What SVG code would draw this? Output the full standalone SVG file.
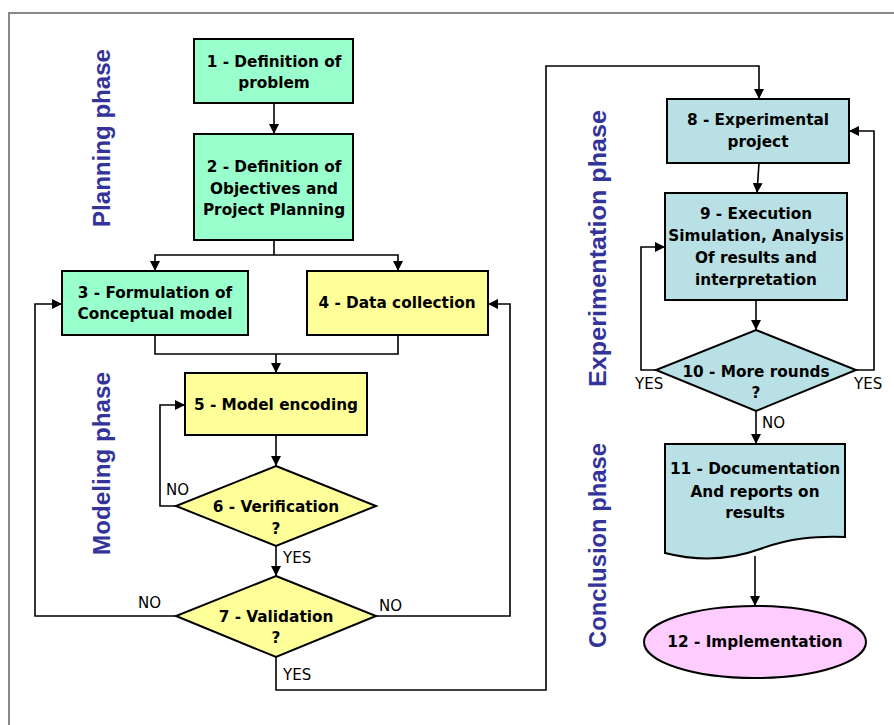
<svg xmlns="http://www.w3.org/2000/svg" width="894" height="725" viewBox="0 0 894 725">
<defs>
<marker id="ah" markerUnits="userSpaceOnUse" markerWidth="10" markerHeight="10" refX="10" refY="5" orient="auto">
<path d="M0,0 L10,5 L0,10 Z" fill="#000"/>
</marker>
<style>
.nd{stroke:#000;stroke-width:2}
.g{fill:#99FFCC}.y{fill:#FFFF99}.t{fill:#B9E0E4}.p{fill:#FFCCFF}
.tx{font-family:"DejaVu Sans",sans-serif;font-weight:bold;font-size:15.3px;fill:#000;text-anchor:middle}
.lb{font-family:"DejaVu Sans",sans-serif;font-size:15px;fill:#000}
.ph{font-family:"Liberation Sans",Arial,sans-serif;font-weight:bold;font-size:24px;fill:#333399;text-anchor:middle}
.c{fill:none;stroke:#000;stroke-width:1.6}
.ca{fill:none;stroke:#000;stroke-width:1.6;marker-end:url(#ah)}
</style>
</defs>
<rect width="894" height="725" fill="#fff"/>
<path d="M9,725 V13 H894" fill="none" stroke="#888" stroke-width="2"/>

<g id="phases">
<text class="ph" transform="translate(110,138) rotate(-90)" textLength="178" lengthAdjust="spacingAndGlyphs">Planning phase</text>
<text class="ph" transform="translate(110,463.5) rotate(-90)" textLength="183" lengthAdjust="spacingAndGlyphs">Modeling phase</text>
<text class="ph" transform="translate(606,248.5) rotate(-90)" textLength="277" lengthAdjust="spacingAndGlyphs">Experimentation phase</text>
<text class="ph" transform="translate(606,545.5) rotate(-90)" textLength="205" lengthAdjust="spacingAndGlyphs">Conclusion phase</text>
</g>

<g id="connectors">
<path class="ca" d="M274,103 V134"/>
<path class="c" d="M274,240 V255"/>
<path class="ca" d="M274,255 H155 V271"/>
<path class="ca" d="M274,255 H398 V271"/>
<path class="c" d="M155,335 V354 H398 V335"/>
<path class="ca" d="M276,354 V373"/>
<path class="ca" d="M276,435 V466"/>
<path class="ca" d="M176,506 H160 V405 H185"/>
<path class="ca" d="M276,546 V576"/>
<path class="ca" d="M176,616 H35 V304 H62"/>
<path class="ca" d="M376,616 H510 V304 H488"/>
<path class="ca" d="M276,657 V690 H546 V66 H759 V99"/>
<path class="ca" d="M759,163 L757,193"/>
<path class="ca" d="M756,300 V330"/>
<path class="ca" d="M656,370 H641 V247 H665"/>
<path class="ca" d="M856,370 H874 V131 H849"/>
<path class="ca" d="M756,411 V444"/>
<path class="ca" d="M755,556 V606"/>
<text class="lb" x="166" y="495">NO</text>
<text class="lb" x="283" y="563">YES</text>
<text class="lb" x="138" y="608">NO</text>
<text class="lb" x="379" y="611">NO</text>
<text class="lb" x="283" y="680">YES</text>
<text class="lb" x="635" y="389">YES</text>
<text class="lb" x="854" y="389">YES</text>
<text class="lb" x="762" y="428">NO</text>
</g>

<g id="n1">
<rect class="nd g" x="194" y="39" width="159" height="64"/>
<text class="tx"><tspan x="274" y="67">1 - Definition of</tspan><tspan x="274" y="88">problem</tspan></text>
</g>
<g id="n2">
<rect class="nd g" x="194" y="134" width="159" height="106"/>
<text class="tx"><tspan x="274" y="172">2 - Definition of</tspan><tspan x="274" y="194">Objectives and</tspan><tspan x="274" y="215">Project Planning</tspan></text>
</g>
<g id="n3">
<rect class="nd g" x="62" y="271" width="186" height="64"/>
<text class="tx"><tspan x="155" y="298">3 - Formulation of</tspan><tspan x="155" y="319">Conceptual model</tspan></text>
</g>
<g id="n4">
<rect class="nd y" x="307" y="271" width="181" height="64"/>
<text class="tx" x="397" y="308">4 - Data collection</text>
</g>
<g id="n5">
<rect class="nd y" x="185" y="373" width="182" height="62"/>
<text class="tx" x="276" y="410">5 - Model encoding</text>
</g>
<g id="n6">
<path class="nd y" d="M276,466 L376,506 L276,546 L176,506 Z"/>
<text class="tx"><tspan x="276" y="512">6 - Verification</tspan><tspan x="276" y="534">?</tspan></text>
</g>
<g id="n7">
<path class="nd y" d="M276,576 L376,616 L276,657 L176,616 Z"/>
<text class="tx"><tspan x="276" y="622">7 - Validation</tspan><tspan x="276" y="643">?</tspan></text>
</g>
<g id="n8">
<rect class="nd t" x="667" y="99" width="182" height="64"/>
<text class="tx"><tspan x="758" y="125">8 - Experimental</tspan><tspan x="758" y="147">project</tspan></text>
</g>
<g id="n9">
<rect class="nd t" x="665" y="193" width="182" height="107"/>
<text class="tx"><tspan x="756" y="219">9 - Execution</tspan><tspan x="756" y="241">Simulation, Analysis</tspan><tspan x="756" y="263">Of results and</tspan><tspan x="756" y="285">interpretation</tspan></text>
</g>
<g id="n10">
<path class="nd t" d="M756,330 L856,370 L756,411 L656,370 Z"/>
<text class="tx"><tspan x="756" y="377">10 - More rounds</tspan><tspan x="756" y="398">?</tspan></text>
</g>
<g id="n11">
<path class="nd t" d="M665,444 H845 V537 C815,536 790,538 760,549 C730,560 700,562 665,553 Z"/>
<text class="tx"><tspan x="755" y="474">11 - Documentation</tspan><tspan x="755" y="497">And reports on</tspan><tspan x="755" y="518">results</tspan></text>
</g>
<g id="n12">
<ellipse class="nd p" cx="755" cy="642" rx="111" ry="36"/>
<text class="tx" x="755" y="647">12 - Implementation</text>
</g>
</svg>
